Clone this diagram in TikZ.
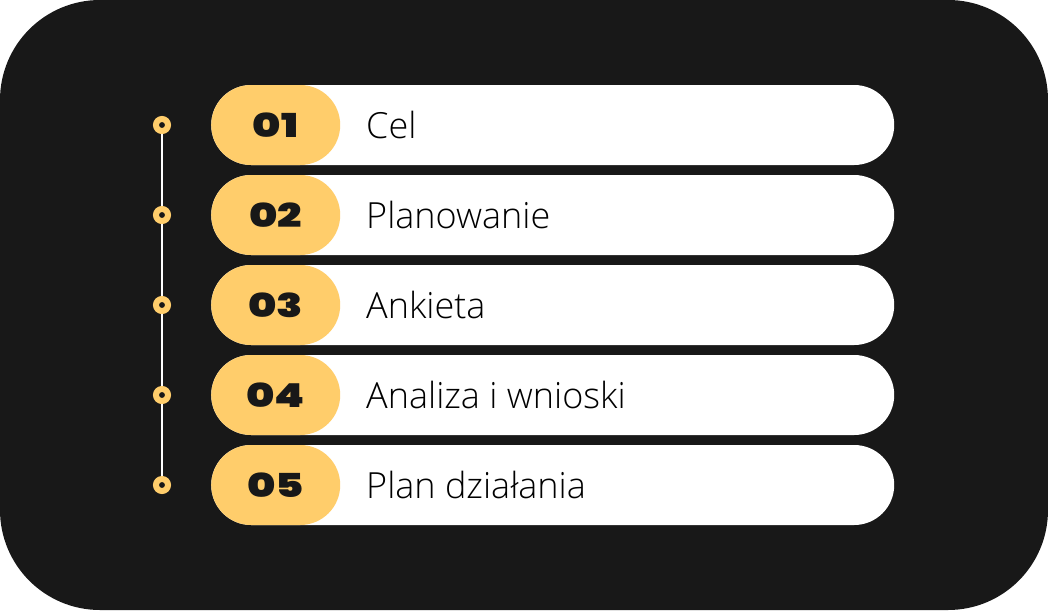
\documentclass[tikz,border=0pt]{standalone}
\usepackage{fontspec}
\setmainfont{Open Sans}[UprightFont=* Light]
\newfontfamily\numfont{Poppins}[FakeStretch=1.3,BoldFont=* Black]
\usetikzlibrary{positioning}

\definecolor{panel}{HTML}{181818}
\definecolor{sun}{HTML}{FFCD6B}

\begin{document}
\begin{tikzpicture}[x=1pt,y=-1pt]

\tikzset{whitepill/.style={fill=white,rounded corners=40pt,minimum width=683pt,minimum height=80pt,inner sep=0,anchor=west},
numpill/.style={fill=sun,rounded corners=40pt,minimum width=129pt,minimum height=80pt,inner sep=0,anchor=west,font=\numfont\bfseries\fontsize{33}{33}\selectfont,text=panel},
steplabel/.style={font=\fontsize{36}{36}\selectfont,inner sep=0,anchor=west,text=black},
ringdot/.style={circle,fill=panel,draw=sun,line width=6pt,minimum size=12pt,inner sep=0},
timeline/.style={draw=white,line width=2pt}}

% Background panel
\fill[panel,rounded corners=100pt] (0,0) rectangle (1048,610);
\useasboundingbox (0,0) rectangle (1048,610);

% Rows
\foreach \i/\num/\lab in {1/01/Cel, 2/02/Planowanie, 3/03/Ankieta, 4/04/Analiza i wnioski, 5/05/Plan działania} {
	\node (row\i) [whitepill] at (211, 35+90*\i) {};
	\node (num\i) [numpill] at (211, 35+90*\i) {\num};
	\node (lab\i) [steplabel] at (366, 35+90*\i) {\lab};
	\node (dot\i) [ringdot] at (162, 35+90*\i) {};
}

% Timeline
\foreach \a/\b in {1/2, 2/3, 3/4, 4/5}
	\draw[timeline] (dot\a) -- (dot\b);
\end{tikzpicture}
\end{document}
